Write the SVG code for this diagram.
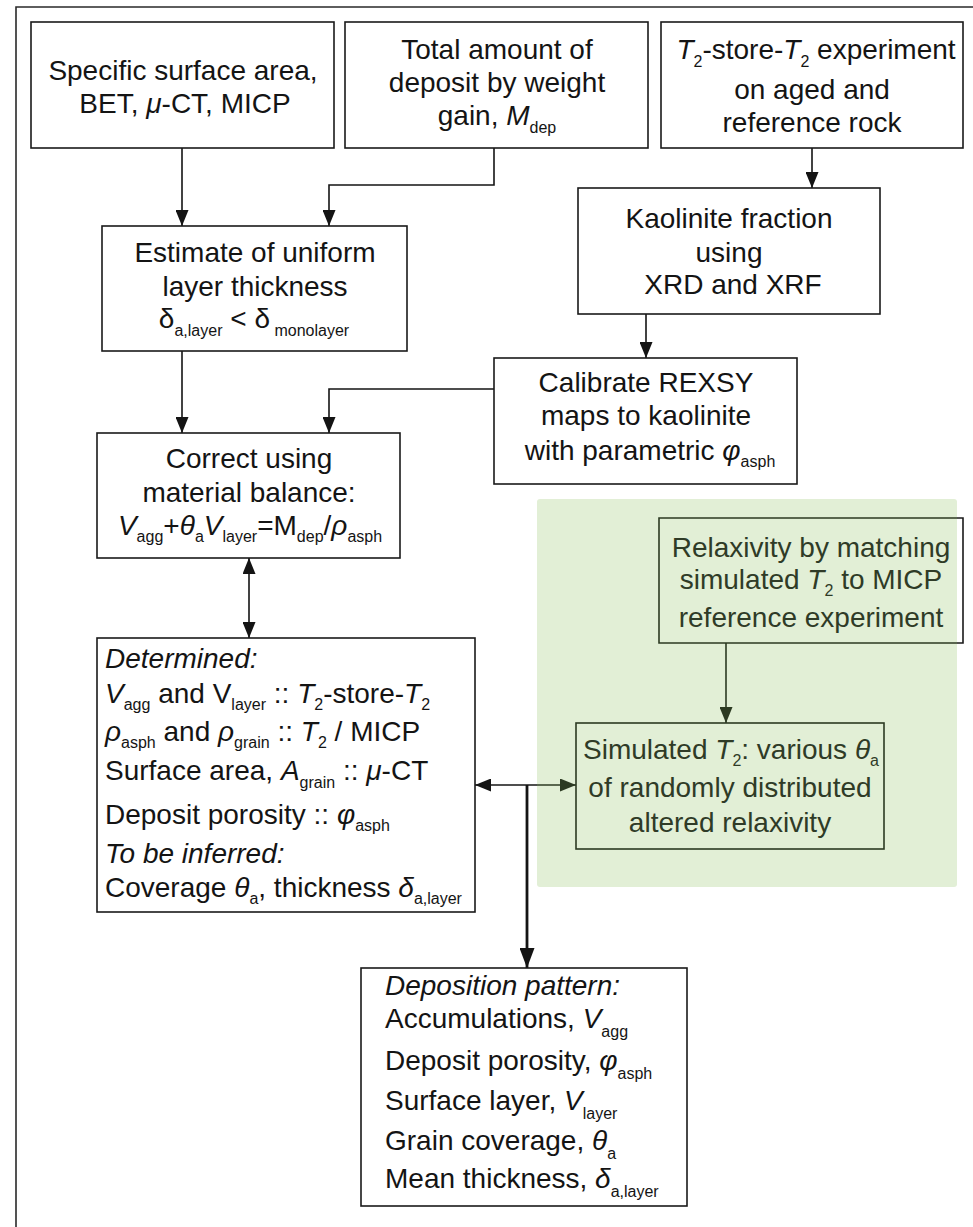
<svg xmlns="http://www.w3.org/2000/svg" width="973" height="1227" viewBox="0 0 973 1227">
  <style>
    .bx { fill: #ffffff; stroke: #1a1a1a; stroke-width: 1.6; }
    .bxg { fill: none; stroke: #2c3a22; stroke-width: 1.6; }
    .t { font-family: "Liberation Sans", Arial, sans-serif; font-size: 28px; fill: #141414; }
    .tg { fill: #2f3b27; }
    .c { text-anchor: middle; }
    .i { font-style: italic; }
    .s { font-size: 16px; font-style: normal; }
    .ln { fill: none; stroke: #141414; stroke-width: 1.6; }
    .lng { fill: none; stroke: #2c3a22; stroke-width: 1.6; }
    .lnk { fill: none; stroke: #141414; stroke-width: 2.8; }
  </style>
  <defs>
    <marker id="ah" markerUnits="userSpaceOnUse" markerWidth="17" markerHeight="13" refX="16" refY="6.5" orient="auto-start-reverse">
      <path d="M0,0 L16,6.5 L0,13 z" fill="#141414"/>
    </marker>
    <marker id="ahg" markerUnits="userSpaceOnUse" markerWidth="17" markerHeight="13" refX="16" refY="6.5" orient="auto">
      <path d="M0,0 L16,6.5 L0,13 z" fill="#2c3a22"/>
    </marker>
    <marker id="ahk" markerUnits="userSpaceOnUse" markerWidth="21" markerHeight="15" refX="20" refY="7.5" orient="auto">
      <path d="M0,0 L20,7.5 L0,15 z" fill="#141414"/>
    </marker>
  </defs>

  <rect width="973" height="1227" fill="#ffffff"/>

  <!-- outer frame (only top and left edges fall inside the page) -->
  <path d="M16,1227 V7 H973" fill="none" stroke="#2a2a2a" stroke-width="1.6"/>

  <!-- shaded simulation area -->
  <g id="simulation-area">
    <rect x="537" y="499" width="420" height="388" rx="3" fill="#e2efd6"/>
  </g>

  <g id="connectors">
    <path class="ln" d="M182,148 V226" marker-end="url(#ah)"/>
    <path class="ln" d="M494,148 V185 H329 V226" marker-end="url(#ah)"/>
    <path class="ln" d="M812,148 V188" marker-end="url(#ah)"/>
    <path class="ln" d="M646,314 V358" marker-end="url(#ah)"/>
    <path class="ln" d="M182,351 V433" marker-end="url(#ah)"/>
    <path class="ln" d="M494,389 H329 V433" marker-end="url(#ah)"/>
    <path class="ln" d="M249,558 V638" marker-start="url(#ah)" marker-end="url(#ah)"/>
    <path class="lng" d="M726,643 V723" marker-end="url(#ahg)"/>
    <path class="ln" d="M537,785 H475" marker-end="url(#ah)"/>
    <path class="lng" d="M537,785 H576" marker-end="url(#ahg)"/>
    <path class="lnk" d="M527,785 V968" marker-end="url(#ahk)"/>
  </g>

  <g id="surface-area">
    <rect class="bx" x="31" y="22" width="303" height="126"/>
    <text class="t c" x="183" y="80">Specific surface area,</text>
    <text class="t c" x="185" y="113">BET, <tspan class="i">μ</tspan>-CT, MICP</text>
  </g>

  <g id="deposit-mass">
    <rect class="bx" x="345" y="22" width="303" height="126"/>
    <text class="t c" x="497" y="59">Total amount of</text>
    <text class="t c" x="497" y="92">deposit by weight</text>
    <text class="t c" x="497" y="125">gain, <tspan class="i">M</tspan><tspan class="s" dy="8">dep</tspan></text>
  </g>

  <g id="t2-store-t2">
    <rect class="bx" x="661" y="22" width="302" height="126"/>
    <text class="t c" x="816" y="59"><tspan class="i">T</tspan><tspan class="s" dy="8">2</tspan><tspan dy="-8">-store-</tspan><tspan class="i">T</tspan><tspan class="s" dy="8">2</tspan><tspan dy="-8"> experiment</tspan></text>
    <text class="t c" x="812" y="99">on aged and</text>
    <text class="t c" x="812" y="132">reference rock</text>
  </g>

  <g id="uniform-layer">
    <rect class="bx" x="102" y="226" width="305" height="125"/>
    <text class="t c" x="255" y="262">Estimate of uniform</text>
    <text class="t c" x="255" y="296">layer thickness</text>
    <text class="t c" x="254" y="328">δ<tspan class="s" dy="8">a,layer</tspan><tspan dy="-8"> &lt; δ</tspan><tspan class="s" dy="8"> monolayer</tspan></text>
  </g>

  <g id="kaolinite">
    <rect class="bx" x="578" y="188" width="302" height="126"/>
    <text class="t c" x="729" y="228">Kaolinite fraction</text>
    <text class="t c" x="729" y="262">using</text>
    <text class="t c" x="733" y="294">XRD and XRF</text>
  </g>

  <g id="rexsy">
    <rect class="bx" x="494" y="358" width="303" height="126"/>
    <text class="t c" x="646" y="392">Calibrate REXSY</text>
    <text class="t c" x="646" y="425">maps to kaolinite</text>
    <text class="t c" x="650" y="460">with parametric <tspan class="i">φ</tspan><tspan class="s" dy="7">asph</tspan></text>
  </g>

  <g id="material-balance">
    <rect class="bx" x="97" y="433" width="303" height="125"/>
    <text class="t c" x="249" y="468">Correct using</text>
    <text class="t c" x="249" y="502">material balance:</text>
    <text class="t c" x="250" y="535"><tspan class="i">V</tspan><tspan class="s" dy="7">agg</tspan><tspan dy="-7">+</tspan><tspan class="i">θ</tspan><tspan class="s" dy="7">a</tspan><tspan class="i" dy="-7">V</tspan><tspan class="s" dy="7">layer</tspan><tspan dy="-7">=M</tspan><tspan class="s" dy="7">dep</tspan><tspan dy="-7">/</tspan><tspan class="i">ρ</tspan><tspan class="s" dy="7">asph</tspan></text>
  </g>

  <g id="determined">
    <rect class="bx" x="97" y="638" width="378" height="274"/>
    <text class="t i" x="105" y="668">Determined:</text>
    <text class="t" x="105" y="703"><tspan class="i">V</tspan><tspan class="s" dy="7">agg</tspan><tspan dy="-7"> and V</tspan><tspan class="s" dy="7">layer</tspan><tspan dy="-7"> :: </tspan><tspan class="i">T</tspan><tspan class="s" dy="7">2</tspan><tspan dy="-7">-store-</tspan><tspan class="i">T</tspan><tspan class="s" dy="7">2</tspan></text>
    <text class="t" x="105" y="741"><tspan class="i">ρ</tspan><tspan class="s" dy="7">asph</tspan><tspan dy="-7"> and </tspan><tspan class="i">ρ</tspan><tspan class="s" dy="7">grain</tspan><tspan dy="-7"> :: </tspan><tspan class="i">T</tspan><tspan class="s" dy="7">2</tspan><tspan dy="-7"> / MICP</tspan></text>
    <text class="t" x="105" y="780">Surface area, <tspan class="i">A</tspan><tspan class="s" dy="8">grain</tspan><tspan dy="-8"> :: </tspan><tspan class="i">μ</tspan>-CT</text>
    <text class="t" x="105" y="824">Deposit porosity :: <tspan class="i">φ</tspan><tspan class="s" dy="7">asph</tspan></text>
    <text class="t i" x="105" y="863">To be inferred:</text>
    <text class="t" x="105" y="897">Coverage <tspan class="i">θ</tspan><tspan class="s" dy="7">a</tspan><tspan dy="-7">, thickness </tspan><tspan class="i">δ</tspan><tspan class="s" dy="7">a,layer</tspan></text>
  </g>

  <g id="relaxivity">
    <!-- box outline: edges inside the shaded area are tinted, the part past it stays black -->
    <path class="bxg" d="M957,518 H659 V643 H957"/>
    <path d="M957,518 H963 V643 H957" fill="none" stroke="#1a1a1a" stroke-width="1.6"/>
    <text class="t tg c" x="811" y="557">Relaxivity by matching</text>
    <text class="t tg c" x="811" y="589">simulated <tspan class="i">T</tspan><tspan class="s" dy="7">2</tspan><tspan dy="-7"> to MICP</tspan></text>
    <text class="t tg c" x="811" y="627">reference experiment</text>
  </g>

  <g id="simulated-t2">
    <rect class="bxg" x="576" y="723" width="308" height="126"/>
    <text class="t tg c" x="731" y="759">Simulated <tspan class="i">T</tspan><tspan class="s" dy="7">2</tspan><tspan dy="-7">: various </tspan><tspan class="i">θ</tspan><tspan class="s" dy="7">a</tspan></text>
    <text class="t tg c" x="730" y="797">of randomly distributed</text>
    <text class="t tg c" x="730" y="832">altered relaxivity</text>
  </g>

  <g id="deposition-pattern">
    <rect class="bx" x="361" y="968" width="326" height="238"/>
    <text class="t i" x="385" y="995">Deposition pattern:</text>
    <text class="t" x="385" y="1028">Accumulations, <tspan class="i">V</tspan><tspan class="s" dy="9">agg</tspan></text>
    <text class="t" x="385" y="1070">Deposit porosity, <tspan class="i">φ</tspan><tspan class="s" dy="9">asph</tspan></text>
    <text class="t" x="385" y="1110">Surface layer, <tspan class="i">V</tspan><tspan class="s" dy="9">layer</tspan></text>
    <text class="t" x="385" y="1150">Grain coverage, <tspan class="i">θ</tspan><tspan class="s" dy="9">a</tspan></text>
    <text class="t" x="385" y="1188">Mean thickness, <tspan class="i">δ</tspan><tspan class="s" dy="9">a,layer</tspan></text>
  </g>
</svg>
